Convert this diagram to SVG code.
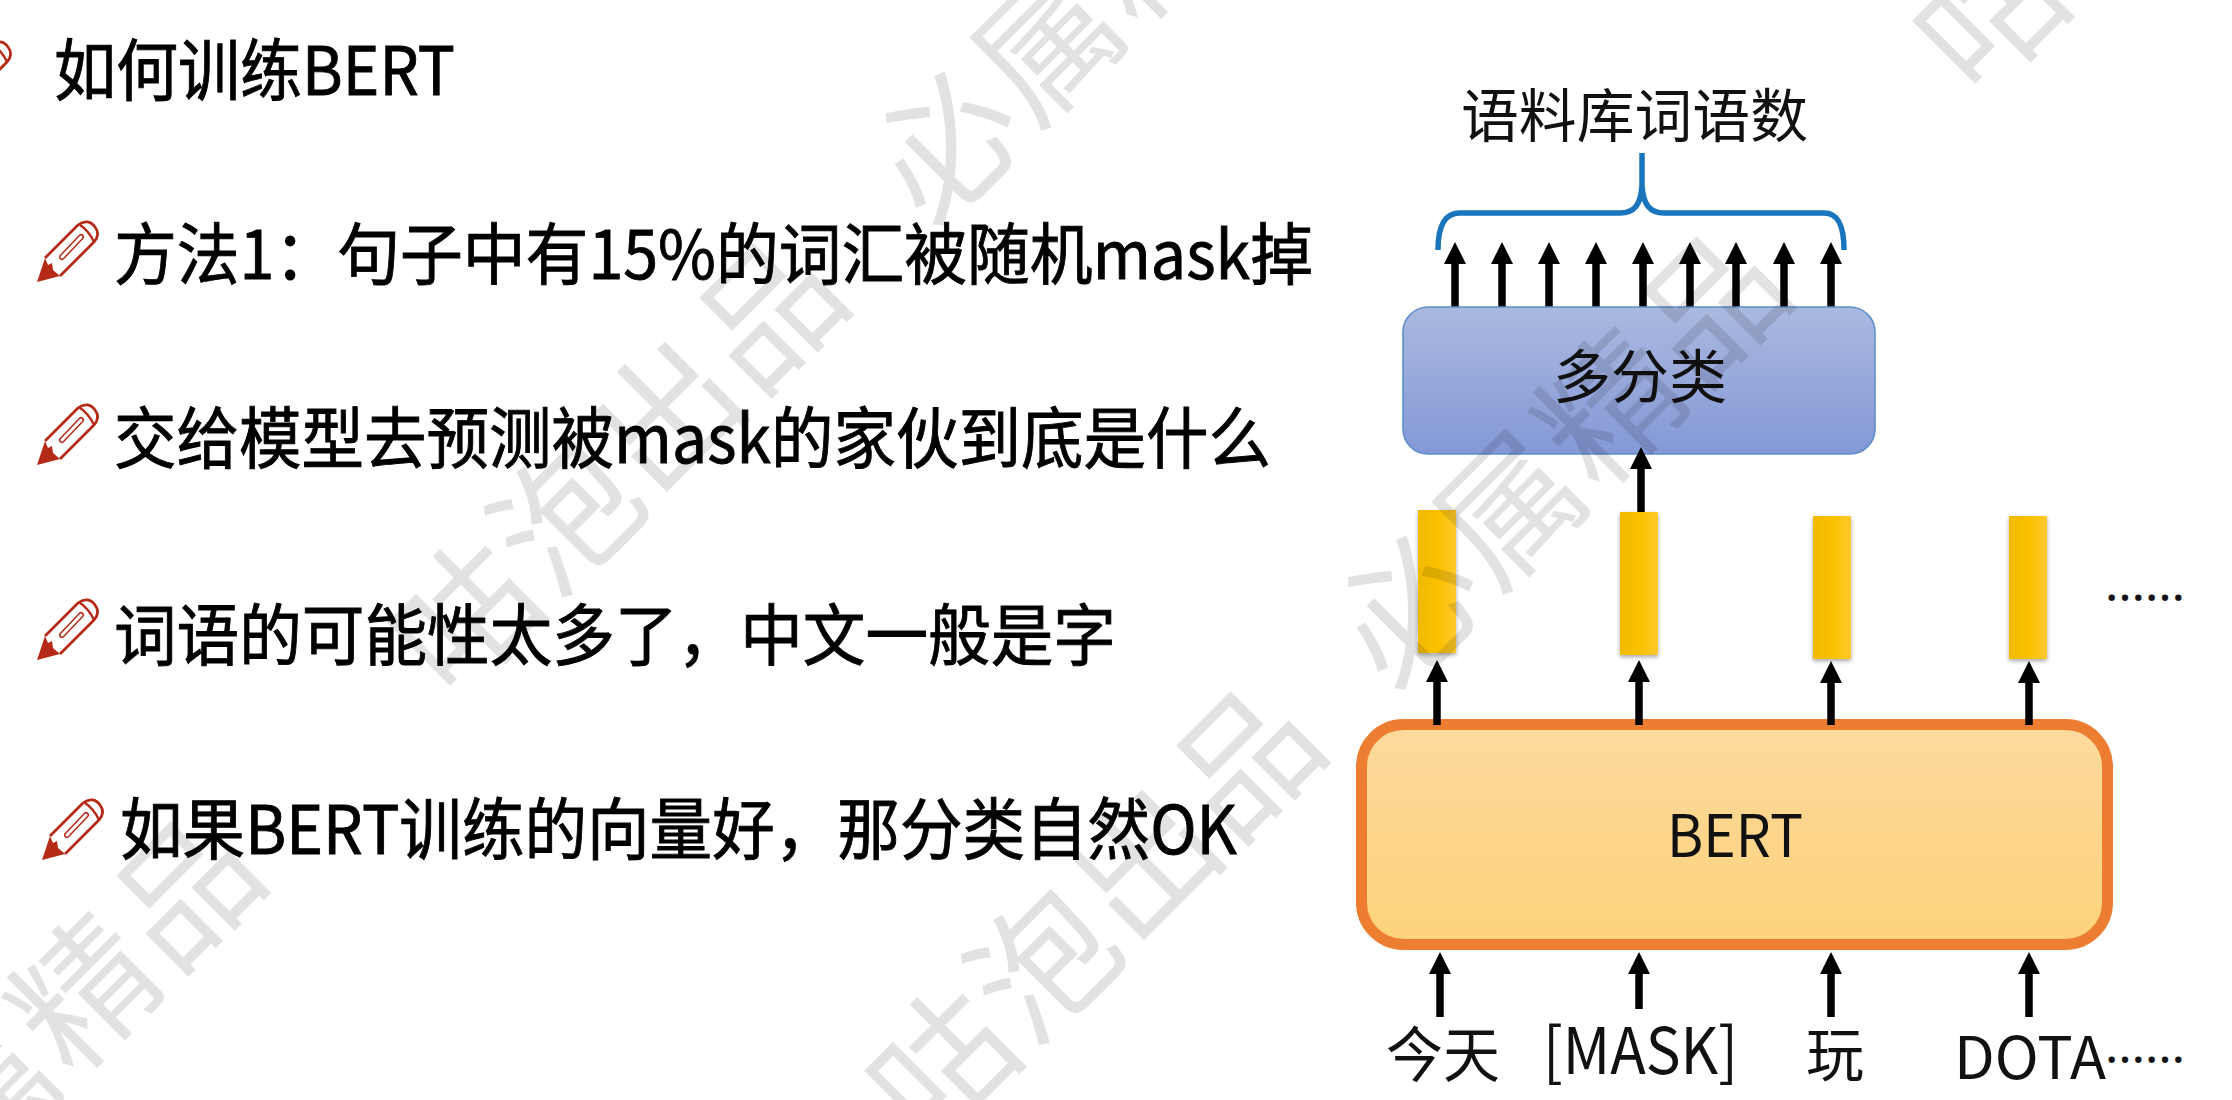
<svg xmlns="http://www.w3.org/2000/svg" xmlns:xlink="http://www.w3.org/1999/xlink" width="2232" height="1100" viewBox="0 0 2232 1100">
<style>
text{font-family:"Noto Sans CJK SC","Noto Sans",sans-serif;fill:#000}
.t{font-size:67px;stroke:#000;stroke-width:.9}
.d{font-size:58px;fill:#111}
.dots{font-size:40px;fill:#111;stroke:#111;stroke-width:1}
.wm{font-size:140px;letter-spacing:3px;fill:#000;fill-opacity:.115}
.ar{stroke:#000;stroke-width:7.5;fill:none}
.bar{fill:url(#yg);filter:url(#sh)}
</style>
<defs>
<linearGradient id="bg" x1="0" y1="0" x2="0" y2="1"><stop offset="0" stop-color="#abb9e0"/><stop offset="1" stop-color="#8398d6"/></linearGradient>
<linearGradient id="og" x1="0" y1="0" x2="0" y2="1"><stop offset="0" stop-color="#fdda9e"/><stop offset="1" stop-color="#fdd27a"/></linearGradient>
<linearGradient id="yg" x1="0" y1="0" x2="1" y2="0"><stop offset="0" stop-color="#f2ba00"/><stop offset=".6" stop-color="#fbc206"/><stop offset="1" stop-color="#ffc92e"/></linearGradient>
<filter id="sh" x="-30%" y="-10%" width="160%" height="120%"><feDropShadow dx="0" dy="2" stdDeviation="2" flood-color="#000" flood-opacity=".35"/></filter>
<marker id="ah" markerUnits="userSpaceOnUse" markerWidth="22" markerHeight="22" viewBox="0 0 22 22" refX="1" refY="11" orient="auto"><path d="M0 0L22 11L0 22Z" fill="#000"/></marker>
<g id="pencil">
<path d="M45 258L78 225C84 220 91 221 95 227C99 232 98 238 94 242L60 276" fill="#fff" stroke="#b52a16" stroke-width="2.8" stroke-linejoin="round"/>
<path d="M79 224C86 229 91 235 94 242" fill="none" stroke="#b52a16" stroke-width="2.4"/>
<path d="M45 258L48 265L52 263L53 270L60 276L37 282Z" fill="#b52a16"/>
<path d="M62 257L81 237" stroke="#b52a16" stroke-width="6" stroke-linecap="round"/>
<path d="M62 257L81 237" stroke="#fff" stroke-width="3" stroke-linecap="round"/>
</g>
</defs>
<rect width="2232" height="1100" fill="#fff"/>

<g id="bullets">
<use xlink:href="#pencil" href="#pencil" transform="translate(-87,-180)"/>
<use xlink:href="#pencil" href="#pencil"/>
<use xlink:href="#pencil" href="#pencil" transform="translate(0,183)"/>
<use xlink:href="#pencil" href="#pencil" transform="translate(0,378)"/>
<use xlink:href="#pencil" href="#pencil" transform="translate(5,578)"/>
<text class="t" x="54" y="95" textLength="401" lengthAdjust="spacingAndGlyphs">如何训练BERT</text>
<text class="t" x="114" y="279" textLength="1199" lengthAdjust="spacingAndGlyphs">方法1：句子中有15%的词汇被随机mask掉</text>
<text class="t" x="114" y="463" textLength="1157" lengthAdjust="spacingAndGlyphs">交给模型去预测被mask的家伙到底是什么</text>
<text class="t" x="114" y="660" textLength="1002" lengthAdjust="spacingAndGlyphs">词语的可能性太多了，中文一般是字</text>
<text class="t" x="120" y="854" textLength="1117" lengthAdjust="spacingAndGlyphs">如果BERT训练的向量好，那分类自然OK</text>
</g>

<g id="connectors">
<path id="brace" d="M1438 250C1438 225 1445 213 1460 213L1620 213C1634 213 1641 205 1642 185L1642 153M1642 185C1643 205 1650 213 1664 213L1824 213C1838 213 1844 225 1844 250" fill="none" stroke="#1a75bd" stroke-width="5.5"/>
<g class="ar">
<path d="M1455 307V263" marker-end="url(#ah)"/>
<path d="M1502 307V263" marker-end="url(#ah)"/>
<path d="M1549 307V263" marker-end="url(#ah)"/>
<path d="M1596 307V263" marker-end="url(#ah)"/>
<path d="M1643 307V263" marker-end="url(#ah)"/>
<path d="M1690 307V263" marker-end="url(#ah)"/>
<path d="M1736 307V263" marker-end="url(#ah)"/>
<path d="M1784 307V263" marker-end="url(#ah)"/>
<path d="M1831 307V263" marker-end="url(#ah)"/>
</g>
</g>

<g id="classifier">
<rect x="1403" y="307" width="472" height="147" rx="25" fill="url(#bg)" stroke="#5f8fc9" stroke-width="1.6"/>
<text class="d" x="1640" y="398" text-anchor="middle">多分类</text>
</g>

<g id="vec1"><rect class="bar" x="1418" y="510" width="38" height="143"/></g>
<g id="vec2"><rect class="bar" x="1620" y="512" width="38" height="143"/></g>
<g id="vec3"><rect class="bar" x="1813" y="516" width="38" height="143"/></g>
<g id="vec4"><rect class="bar" x="2009" y="516" width="38" height="143"/></g>

<g id="bert">
<rect x="1361.5" y="724.5" width="746" height="220" rx="42" fill="url(#og)" stroke="#ed7d31" stroke-width="11"/>
<text class="d" x="1667" y="857" textLength="136" lengthAdjust="spacingAndGlyphs">BERT</text>
</g>

<g id="connectors2" class="ar">
<path d="M1641 512V468" marker-end="url(#ah)"/>
<path d="M1437 725V681" marker-end="url(#ah)"/>
<path d="M1639 725V681" marker-end="url(#ah)"/>
<path d="M1831 725V682" marker-end="url(#ah)"/>
<path d="M2029 725V682" marker-end="url(#ah)"/>
<path d="M1440 1017V973" marker-end="url(#ah)"/>
<path d="M1639 1009V973" marker-end="url(#ah)"/>
<path d="M1831 1017V973" marker-end="url(#ah)"/>
<path d="M2029 1017V973" marker-end="url(#ah)"/>
</g>

<g id="labels">
<text class="d" x="1461" y="137" textLength="347" lengthAdjust="spacingAndGlyphs">语料库词语数</text>
<text class="d" x="1386" y="1077" style="font-size:60px" textLength="114" lengthAdjust="spacingAndGlyphs">今天</text>
<text class="d" x="1543" y="1074" style="font-size:64px" textLength="195" lengthAdjust="spacingAndGlyphs">[MASK]</text>
<text class="d" x="1806" y="1076" textLength="58" lengthAdjust="spacingAndGlyphs">玩</text>
<text class="d" x="1954" y="1079" textLength="152" lengthAdjust="spacingAndGlyphs">DOTA</text>
<text class="dots" x="2105" y="1075" textLength="80" lengthAdjust="spacingAndGlyphs">……</text>
<text class="dots" x="2105" y="613" textLength="80" lengthAdjust="spacingAndGlyphs">……</text>
</g>

<g id="watermark">
<text class="wm" transform="translate(-116,1195) rotate(-45)" x="-71" y="50">必属精品</text>
<text class="wm" transform="translate(467,617) rotate(-45)" x="-71" y="50">咕泡出品</text>
<text class="wm" transform="translate(948,146) rotate(-45)" x="-71" y="50">必属精品</text>
<text class="wm" transform="translate(944,1065) rotate(-45)" x="-71" y="50">咕泡出品</text>
<text class="wm" transform="translate(1410,610) rotate(-45)" x="-71" y="50">必属精品</text>
<text class="wm" transform="translate(1992,15) rotate(-45)" x="-71" y="50">咕泡出品</text>
</g>
</svg>
